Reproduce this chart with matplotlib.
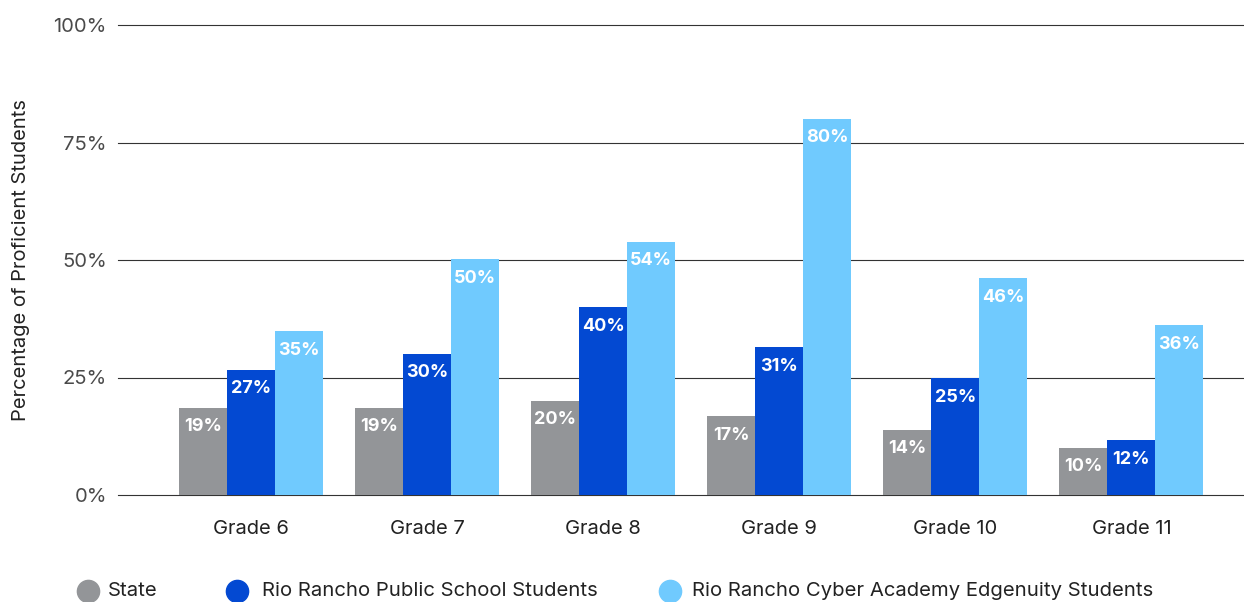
import matplotlib.pyplot as plt
import numpy as np

plt.rcParams['font.family'] = ['Inter', 'DejaVu Sans']

grades = ["Grade 6", "Grade 7", "Grade 8", "Grade 9", "Grade 10", "Grade 11"]
state = [18.6, 18.6, 20.1, 16.8, 13.9, 10.1]
rio_public = [26.7, 30.1, 40.0, 31.4, 24.9, 11.6]
cyber_academy = [34.9, 50.2, 53.9, 80.1, 46.2, 36.1]

series_names = ["State", "Rio Rancho Public School Students",
                "Rio Rancho Cyber Academy Edgenuity Students"]
colors = ["#939598", "#0349D2", "#70CAFE"]
yticks = [0, 25, 50, 75, 100]

W, H = 1244, 602
fig = plt.figure(figsize=(W / 100, H / 100), dpi=100)
ax = fig.add_axes([118 / W, 107 / H, 1 - 118 / W, 470 / H])

x = np.arange(len(grades))
w = 0.273
for k, (vals, col) in enumerate(zip([state, rio_public, cyber_academy], colors)):
    pos = x + (k - 1) * w
    ax.bar(pos, vals, width=w, color=col, zorder=3)
    for px, v in zip(pos, vals):
        ax.text(px, v - 2.3, f"{round(v)}%", ha="center", va="top",
                color="white", fontsize=13, fontweight="bold", zorder=4)

for t in yticks:
    ax.axhline(t, color="#333333", linewidth=0.8, zorder=1, clip_on=False)

ax.set_xlim(-0.756, 5.64)
ax.set_ylim(0, 100)
ax.set_yticks(yticks)
ax.set_yticklabels([f"{t}%" for t in yticks], fontsize=14.5, color="#4a4a4a")
ax.set_xticks(x)
ax.set_xticklabels(grades, fontsize=14.5, color="#222222")
ax.tick_params(axis="both", length=0)
ax.tick_params(axis="y", pad=8)
ax.tick_params(axis="x", pad=18)
for s in ax.spines.values():
    s.set_visible(False)

fig.text(21 / W, 1 - 260 / H, "Percentage of Proficient Students",
         rotation=90, ha="center", va="center", fontsize=14.5, color="#222222")

# legend drawn by hand to sit where the reference has it
marker_x = [88, 237, 670]
text_x = [108, 262, 692]
leg_y = 1 - 591 / H
for mx, tx, name, col in zip(marker_x, text_x, series_names, colors):
    fig.add_artist(plt.Line2D([mx / W], [leg_y], marker="o", markersize=16,
                              color=col, linestyle="", transform=fig.transFigure))
    fig.text(tx / W, leg_y, name, ha="left", va="center", fontsize=14.6,
             color="#222222")

fig.savefig("out.png", dpi=100)
